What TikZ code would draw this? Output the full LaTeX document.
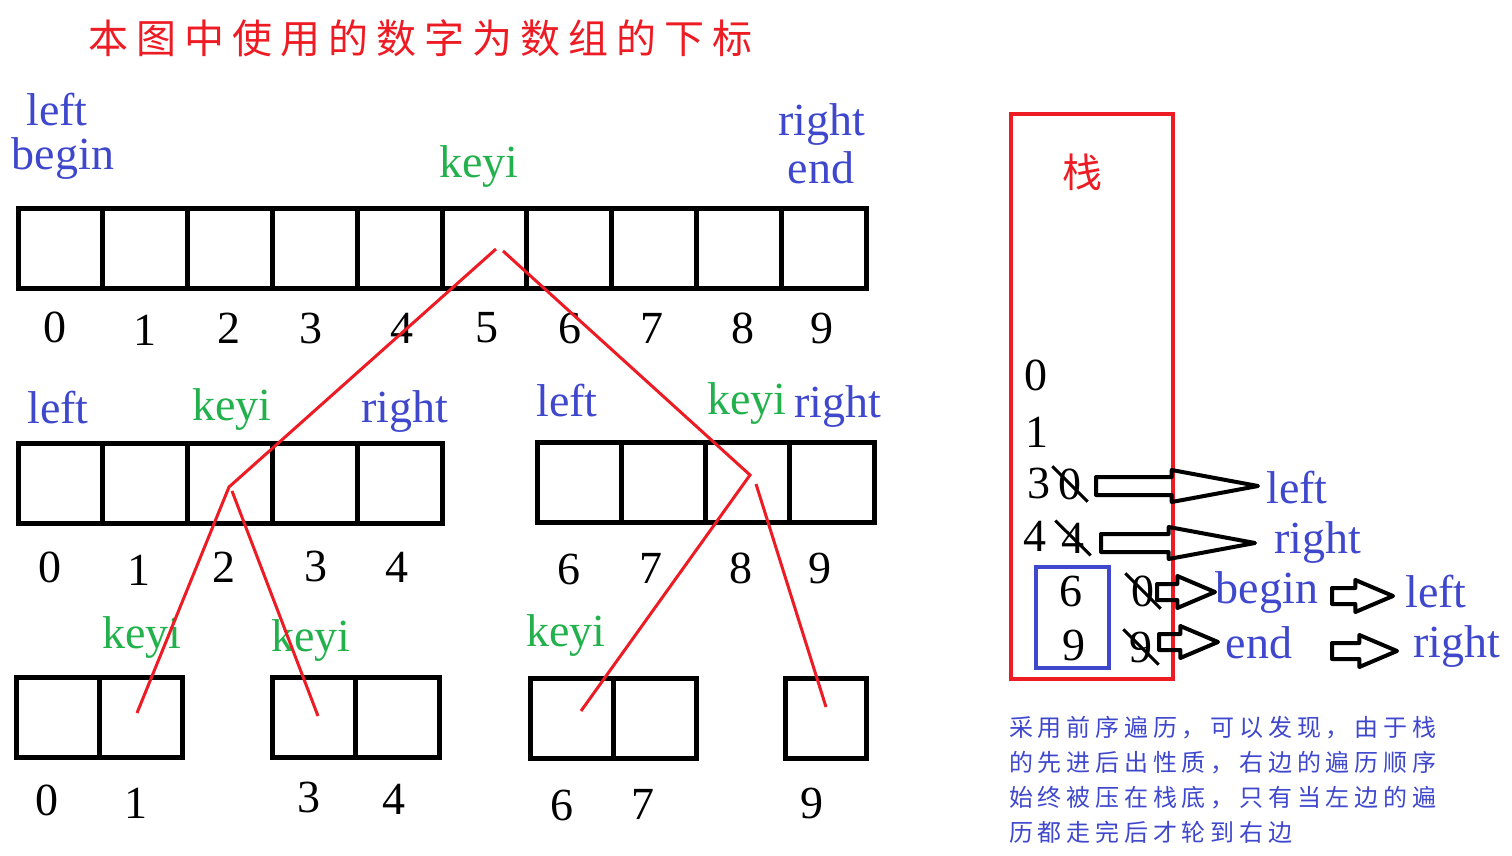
\documentclass[tikz,border=0pt]{standalone}
\usepackage{fontspec}
\setmainfont{Liberation Serif}
\newfontfamily\cjkwide[LetterSpace=20]{Noto Sans CJK SC}
\newfontfamily\cjk{Noto Sans CJK SC}
\usetikzlibrary{shapes.arrows}
\definecolor{pblue}{HTML}{3F48CC}
\definecolor{pgreen}{HTML}{22B14C}
\definecolor{pred}{HTML}{ED1C24}

\begin{document}
\begin{tikzpicture}[x=1pt,y=-1pt,
  cell/.style={draw=black, line width=5pt},
  idx/.style={font=\fontsize{46}{48}\selectfont, inner sep=0pt},
  ptr/.style={font=\fontsize{46}{48}\selectfont\color{pblue}, inner sep=0pt},
  key/.style={font=\fontsize{46}{48}\selectfont\color{pgreen}, inner sep=0pt},
  crossed/.style={idx, inner xsep=6pt, inner ysep=2pt},
  strike/.style={draw=black, line width=3pt},
  split/.style={draw=pred, line width=3pt},
  longarrow/.style={single arrow, draw=black, line width=4pt, line join=round, anchor=tail,
    inner xsep=0pt, inner ysep=7pt, single arrow head extend=7pt, single arrow tip angle=21,
    minimum height=#1},
  shortarrow/.style={single arrow, draw=black, line width=4pt, line join=round, anchor=tail,
    inner xsep=0pt, inner ysep=6pt, single arrow head extend=8pt, single arrow tip angle=46,
    minimum height=#1},
]
\useasboundingbox (0,0) rectangle (1512,856);

% title
\node[font=\cjkwide\fontsize{40}{40}\selectfont\color{pred}, anchor=west, inner sep=0pt] (title) at (88,38)
  {本图中使用的数字为数组的下标};

% arrays: x0/y0/cells/width
\foreach \x/\y/\n/\w in {18/208/10/84.8, 18/443/5/84.8, 537/442/4/84.25,
                         16/677/2/83, 272/677/2/83.5, 530/678/2/83, 785/678/1/81} {
  \foreach \i in {1,...,\n}
    \draw[cell] ({\x+(\i-1)*\w},\y) rectangle ({\x+\i*\w},\y+80);
}

% indices under the arrays
\foreach \t/\x/\y [count=\k] in {0/55/327, 1/145/330, 2/229/328, 3/311/328, 4/402/328,
    5/487/328, 6/570/328, 7/652/328, 8/743/328, 9/822/328,
    0/50/567, 1/139/570, 2/224/567, 3/316/566, 4/397/567,
    6/569/569, 7/651/568, 8/741/568, 9/820/568,
    0/47/800, 1/136/803, 3/309/797, 4/394/799, 6/562/805, 7/643/804, 9/812/803}
  \node[idx] (n\k) at (\x,\y) {\t};

% pointers
\node[ptr] (left1) at (57,110) {left};
\node[ptr] (begin1) at (63,159) {begin};
\node[ptr] (right1) at (822,125) {right};
\node[ptr] (end1) at (821,168) {end};
\node[key] (keyi1) at (479,167) {keyi};
\node[ptr] (left2) at (58,408) {left};
\node[key] (keyi2) at (232,410) {keyi};
\node[ptr] (right2) at (405,412) {right};
\node[ptr] (left3) at (567,401) {left};
\node[key] (keyi3) at (747,404) {keyi};
\node[ptr] (right3) at (838,407) {right};
\node[key] (keyi4) at (142,637) {keyi};
\node[key] (keyi5) at (311,640) {keyi};
\node[key] (keyi6) at (566,635) {keyi};

% recursion lines
\coordinate (r5) at (496,249);
\coordinate (r5b) at (503,251);
\coordinate (r2) at (229,487);
\coordinate (r2b) at (232,491);
\coordinate (r8) at (750,475);
\coordinate (r8b) at (756,484);
\coordinate (e1) at (137,713);
\coordinate (e3) at (318,716);
\coordinate (e6) at (581,711);
\coordinate (e9) at (826,707);
\draw[split] (r5) -- (r2) -- (e1);
\draw[split] (r2b) -- (e3);
\draw[split] (r5b) -- (r8) -- (e6);
\draw[split] (r8b) -- (e9);

% stack
\draw[pred, line width=4pt] (1011,114) rectangle (1173,679);
\node[font=\cjk\fontsize{40}{40}\selectfont\color{pred}, inner sep=0pt] (stk) at (1082,172) {栈};
\draw[pblue, line width=4pt] (1036,567) rectangle (1109,668);
\node[idx] (s0) at (1036,375) {0};
\node[idx] (s1) at (1037,432) {1};
\node[idx] (s3) at (1039,483) {3};
\node[idx] (s4) at (1035,536) {4};
\node[idx] (s6) at (1071,591) {6};
\node[idx] (s9) at (1074,645) {9};
\node[crossed] (x0) at (1070,484) {0};
\node[crossed] (x4) at (1073,538) {4};
\node[crossed] (y0) at (1143,591) {0};
\node[crossed] (y9) at (1141,647) {9};
\foreach \c in {x0,x4,y0,y9}
  \draw[strike] (\c.north west) -- (\c.south east);

% hand-over arrows
\node[longarrow=162pt] (a1) at (1094,486) {};
\node[longarrow=154pt] (a2) at (1099,543) {};
\node[shortarrow=58pt] (a3) at (1155,592) {};
\node[shortarrow=59pt] (a4) at (1157,642) {};
\node[shortarrow=61pt] (a5) at (1330,596) {};
\node[shortarrow=65pt] (a6) at (1330,651) {};
\node[ptr] (l1) at (1297,488) {left};
\node[ptr] (l2) at (1318,542) {right};
\node[ptr] (l3) at (1267,592) {begin};
\node[ptr] (l4) at (1436,592) {left};
\node[ptr] (l5) at (1259,643) {end};
\node[ptr] (l6) at (1457,646) {right};

% note
\node[font=\cjkwide\fontsize{24}{35}\selectfont\color{pblue}, align=left, anchor=north west, inner sep=0pt]
  (note) at (1009,716)
  {采用前序遍历，可以发现，由于栈\\的先进后出性质，右边的遍历顺序\\始终被压在栈底，只有当左边的遍\\历都走完后才轮到右边};
\end{tikzpicture}
\end{document}
